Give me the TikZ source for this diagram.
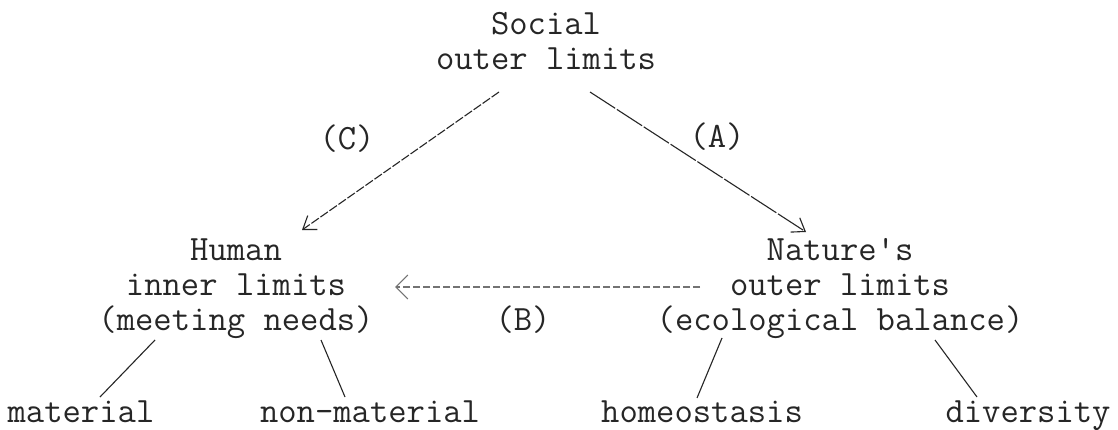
\documentclass[tikz,border=0pt]{standalone}
\usepackage{fontspec}
\usetikzlibrary{arrows.meta,calc}
\begin{document}
\begin{tikzpicture}[x=1pt,y=-1pt,
  txt/.style={font=\ttfamily\fontsize{35.6}{35}\selectfont, text=black!85, align=center, inner sep=0pt, anchor=base},
  conn/.style={line width=1.1pt, draw=black!85},
  tip/.style={-{Straight Barb[length=12pt,width=17pt,line width=1.1pt]}},
  arrC/.style={conn, tip, dash pattern=on 9pt off 2pt},
  arrA/.style={conn, tip, dash pattern=on 30pt off 2pt},
  arrB/.style={conn, draw=black!55, dash pattern=on 7pt off 3pt,
    -{Straight Barb[length=12pt,width=24pt,line width=1.1pt]}}]
\useasboundingbox (0,0) rectangle (1118,430);
\fill[white] (0,0) rectangle (1118,430);

% anchor=base is the baseline of the last line
\node[txt] (top) at (546,70) {Social\\outer limits};
\node[txt] (human) at (236,330) {Human\\inner limits\\(meeting needs)};
\node[txt] (nature) at (840,330) {Nature's\\outer limits\\(ecological balance)};

\node[txt] (material) at (81,422) {material};
\node[txt] (nonmat) at (370,422) {non-material};
\node[txt] (homeo) at (702,422) {homeostasis};
\node[txt] (divers) at (1028,422) {diversity};

\node[txt] (lC) at (347,150) {(C)};
\node[txt] (lA) at (717,148) {(A)};
\node[txt] (lB) at (523,330) {(B)};

\coordinate (cC1) at (499,92);
\coordinate (cC2) at (302,230);
\coordinate (cA1) at (590,92);
\coordinate (cA2) at (806,232);
\coordinate (cB1) at (700,287);
\coordinate (cB2) at (395,287);
\draw[arrC] (cC1) -- (cC2);
\draw[arrA] (cA1) -- (cA2);
\draw[arrB] (cB1) -- (cB2);

\coordinate (h1) at (155,340); \coordinate (m1) at (100,397);
\coordinate (h2) at (321,340); \coordinate (m2) at (345,397);
\coordinate (n1) at (722,338); \coordinate (m3) at (697,398);
\coordinate (n2) at (935,340); \coordinate (m4) at (977,397);
\draw[conn] (h1) -- (m1);
\draw[conn] (h2) -- (m2);
\draw[conn] (n1) -- (m3);
\draw[conn] (n2) -- (m4);
\end{tikzpicture}
\end{document}
